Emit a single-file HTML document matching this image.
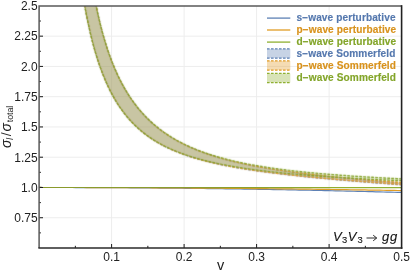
<!DOCTYPE html><html><head><meta charset="utf-8"><style>html,body{margin:0;padding:0;background:#fff}body{width:411px;height:271px;overflow:hidden;position:relative;font-family:"Liberation Sans",sans-serif}</style></head><body>
<svg width="411" height="271" viewBox="0 0 411 271" style="position:absolute;left:0;top:0;will-change:transform">
<defs><filter id="bl" filterUnits="userSpaceOnUse" x="0" y="0" width="411" height="271"><feConvolveMatrix order="3" kernelMatrix="0.5 2.5 0.5 2.5 18 2.5 0.5 2.5 0.5" divisor="30" edgeMode="none"/></filter><linearGradient id="gg" gradientUnits="userSpaceOnUse" x1="39" y1="0" x2="402" y2="0"><stop offset="0" stop-color="#8a9a2c"/><stop offset="0.55" stop-color="#8c9f2e"/><stop offset="0.85" stop-color="#8FB032"/></linearGradient><clipPath id="c"><rect x="39.10" y="5.90" width="362.50" height="242.10"/></clipPath></defs>
<g stroke="#ededed" stroke-width="1" fill="none"><line x1="111.60" y1="5.9" x2="111.60" y2="248.0"/><line x1="184.10" y1="5.9" x2="184.10" y2="248.0"/><line x1="256.60" y1="5.9" x2="256.60" y2="248.0"/><line x1="329.10" y1="5.9" x2="329.10" y2="248.0"/><line x1="39.1" y1="217.74" x2="401.6" y2="217.74"/><line x1="39.1" y1="187.47" x2="401.6" y2="187.47"/><line x1="39.1" y1="157.21" x2="401.6" y2="157.21"/><line x1="39.1" y1="126.95" x2="401.6" y2="126.95"/><line x1="39.1" y1="96.69" x2="401.6" y2="96.69"/><line x1="39.1" y1="66.42" x2="401.6" y2="66.42"/><line x1="39.1" y1="36.16" x2="401.6" y2="36.16"/></g>
<g clip-path="url(#c)">
<path d="M39.10,187.47 L42.76,187.48 L46.42,187.48 L50.08,187.48 L53.75,187.48 L57.41,187.49 L61.07,187.49 L64.73,187.50 L68.39,187.51 L72.05,187.52 L75.72,187.53 L79.38,187.54 L83.04,187.55 L86.70,187.56 L90.36,187.57 L94.02,187.59 L97.69,187.61 L101.35,187.62 L105.01,187.64 L108.67,187.66 L112.33,187.68 L115.99,187.70 L119.66,187.72 L123.32,187.74 L126.98,187.77 L130.64,187.79 L134.30,187.82 L137.96,187.85 L141.63,187.87 L145.29,187.90 L148.95,187.93 L152.61,187.96 L156.27,188.00 L159.93,188.03 L163.59,188.06 L167.26,188.10 L170.92,188.14 L174.58,188.17 L178.24,188.21 L181.90,188.25 L185.56,188.29 L189.23,188.33 L192.89,188.37 L196.55,188.42 L200.21,188.46 L203.87,188.51 L207.53,188.55 L211.20,188.60 L214.86,188.65 L218.52,188.70 L222.18,188.75 L225.84,188.80 L229.50,188.85 L233.17,188.91 L236.83,188.96 L240.49,189.02 L244.15,189.07 L247.81,189.13 L251.47,189.19 L255.14,189.25 L258.80,189.31 L262.46,189.37 L266.12,189.43 L269.78,189.50 L273.44,189.56 L277.11,189.63 L280.77,189.69 L284.43,189.76 L288.09,189.83 L291.75,189.90 L295.41,189.97 L299.07,190.04 L302.74,190.12 L306.40,190.19 L310.06,190.26 L313.72,190.34 L317.38,190.42 L321.04,190.50 L324.71,190.57 L328.37,190.65 L332.03,190.74 L335.69,190.82 L339.35,190.90 L343.01,190.98 L346.68,191.07 L350.34,191.16 L354.00,191.24 L357.66,191.33 L361.32,191.42 L364.98,191.51 L368.65,191.60 L372.31,191.69 L375.97,191.79 L379.63,191.88 L383.29,191.98 L386.95,192.07 L390.62,192.17 L394.28,192.27 L397.94,192.37 L401.60,192.47" fill="none" stroke="#5E81B5" stroke-width="1.2"/>
<path d="M39.10,187.47 L42.76,187.48 L46.42,187.48 L50.08,187.48 L53.75,187.48 L57.41,187.48 L61.07,187.49 L64.73,187.49 L68.39,187.50 L72.05,187.50 L75.72,187.51 L79.38,187.51 L83.04,187.52 L86.70,187.53 L90.36,187.54 L94.02,187.55 L97.69,187.56 L101.35,187.57 L105.01,187.58 L108.67,187.59 L112.33,187.60 L115.99,187.61 L119.66,187.63 L123.32,187.64 L126.98,187.66 L130.64,187.67 L134.30,187.69 L137.96,187.70 L141.63,187.72 L145.29,187.74 L148.95,187.76 L152.61,187.78 L156.27,187.80 L159.93,187.82 L163.59,187.84 L167.26,187.86 L170.92,187.88 L174.58,187.91 L178.24,187.93 L181.90,187.95 L185.56,187.98 L189.23,188.00 L192.89,188.03 L196.55,188.06 L200.21,188.08 L203.87,188.11 L207.53,188.14 L211.20,188.17 L214.86,188.20 L218.52,188.23 L222.18,188.26 L225.84,188.29 L229.50,188.33 L233.17,188.36 L236.83,188.39 L240.49,188.43 L244.15,188.46 L247.81,188.50 L251.47,188.53 L255.14,188.57 L258.80,188.61 L262.46,188.65 L266.12,188.69 L269.78,188.73 L273.44,188.77 L277.11,188.81 L280.77,188.85 L284.43,188.89 L288.09,188.93 L291.75,188.97 L295.41,189.02 L299.07,189.06 L302.74,189.11 L306.40,189.15 L310.06,189.20 L313.72,189.25 L317.38,189.29 L321.04,189.34 L324.71,189.39 L328.37,189.44 L332.03,189.49 L335.69,189.54 L339.35,189.59 L343.01,189.64 L346.68,189.70 L350.34,189.75 L354.00,189.80 L357.66,189.86 L361.32,189.91 L364.98,189.97 L368.65,190.03 L372.31,190.08 L375.97,190.14 L379.63,190.20 L383.29,190.26 L386.95,190.32 L390.62,190.38 L394.28,190.44 L397.94,190.50 L401.60,190.56" fill="none" stroke="#E19C24" stroke-width="1.2"/>
<path d="M39.10,187.47 L42.76,187.48 L46.42,187.48 L50.08,187.48 L53.75,187.48 L57.41,187.48 L61.07,187.48 L64.73,187.48 L68.39,187.48 L72.05,187.48 L75.72,187.48 L79.38,187.48 L83.04,187.48 L86.70,187.48 L90.36,187.48 L94.02,187.48 L97.69,187.48 L101.35,187.48 L105.01,187.48 L108.67,187.48 L112.33,187.48 L115.99,187.49 L119.66,187.49 L123.32,187.49 L126.98,187.49 L130.64,187.49 L134.30,187.49 L137.96,187.49 L141.63,187.49 L145.29,187.50 L148.95,187.50 L152.61,187.50 L156.27,187.50 L159.93,187.50 L163.59,187.50 L167.26,187.51 L170.92,187.51 L174.58,187.51 L178.24,187.51 L181.90,187.51 L185.56,187.51 L189.23,187.52 L192.89,187.52 L196.55,187.52 L200.21,187.52 L203.87,187.53 L207.53,187.53 L211.20,187.53 L214.86,187.53 L218.52,187.53 L222.18,187.54 L225.84,187.54 L229.50,187.54 L233.17,187.54 L236.83,187.55 L240.49,187.55 L244.15,187.55 L247.81,187.56 L251.47,187.56 L255.14,187.56 L258.80,187.56 L262.46,187.57 L266.12,187.57 L269.78,187.57 L273.44,187.58 L277.11,187.58 L280.77,187.58 L284.43,187.59 L288.09,187.59 L291.75,187.59 L295.41,187.60 L299.07,187.60 L302.74,187.60 L306.40,187.61 L310.06,187.61 L313.72,187.61 L317.38,187.62 L321.04,187.62 L324.71,187.63 L328.37,187.63 L332.03,187.63 L335.69,187.64 L339.35,187.64 L343.01,187.65 L346.68,187.65 L350.34,187.65 L354.00,187.66 L357.66,187.66 L361.32,187.67 L364.98,187.67 L368.65,187.68 L372.31,187.68 L375.97,187.68 L379.63,187.69 L383.29,187.69 L386.95,187.70 L390.62,187.70 L394.28,187.71 L397.94,187.71 L401.60,187.72" fill="none" stroke="url(#gg)" stroke-width="1.2"/>
<g filter="url(#bl)">
<path d="M401.60,182.95 L399.15,182.76 L396.70,182.56 L394.25,182.36 L391.79,182.16 L389.34,181.96 L386.89,181.76 L384.44,181.55 L381.99,181.35 L379.54,181.14 L377.09,180.93 L374.63,180.72 L372.18,180.51 L369.73,180.30 L367.28,180.09 L364.83,179.87 L362.38,179.65 L359.93,179.43 L357.47,179.21 L355.02,178.99 L352.57,178.76 L350.12,178.53 L347.67,178.30 L345.22,178.06 L342.77,177.83 L340.31,177.59 L337.86,177.34 L335.41,177.10 L332.96,176.85 L330.51,176.60 L328.06,176.34 L325.61,176.08 L323.15,175.82 L320.70,175.55 L318.25,175.28 L315.80,175.01 L313.35,174.73 L310.90,174.44 L308.45,174.15 L305.99,173.86 L303.54,173.56 L301.09,173.26 L298.64,172.95 L296.19,172.63 L293.74,172.31 L291.29,171.98 L288.83,171.64 L286.38,171.30 L283.93,170.95 L281.48,170.60 L279.03,170.23 L276.58,169.86 L274.13,169.48 L271.67,169.09 L269.22,168.69 L266.77,168.28 L264.32,167.87 L261.87,167.44 L259.42,167.00 L256.97,166.55 L254.51,166.09 L252.06,165.61 L249.61,165.13 L247.16,164.63 L244.71,164.11 L242.26,163.58 L239.81,163.04 L237.35,162.48 L234.90,161.90 L232.45,161.31 L230.00,160.70 L227.55,160.07 L225.10,159.41 L222.64,158.74 L220.19,158.05 L217.74,157.33 L215.29,156.59 L212.84,155.82 L210.39,155.03 L207.94,154.20 L205.48,153.35 L203.03,152.47 L200.58,151.55 L198.13,150.60 L195.68,149.61 L193.23,148.59 L190.78,147.52 L188.32,146.41 L185.87,145.26 L183.42,144.06 L180.97,142.81 L178.52,141.50 L176.07,140.14 L173.62,138.71 L171.16,137.23 L168.71,135.67 L166.26,134.04 L163.81,132.34 L161.36,130.55 L158.91,128.68 L156.46,126.71 L154.00,124.64 L151.55,122.46 L149.10,120.17 L146.65,117.75 L144.20,115.20 L141.75,112.51 L139.30,109.65 L136.84,106.63 L134.39,103.43 L131.94,100.02 L129.49,96.40 L127.04,92.53 L124.59,88.40 L122.14,83.98 L119.68,79.24 L117.23,74.14 L114.78,68.63 L112.33,62.67 L109.88,56.19 L107.43,49.12 L104.98,41.38 L102.52,32.84 L100.07,23.38 L97.62,12.83 L95.17,0.95 L92.72,-12.54 L90.27,-28.02 L87.82,-46.02 L85.36,-67.23 L75.56,-64.07 L78.01,-40.93 L80.46,-21.53 L82.91,-4.99 L85.36,9.32 L87.82,21.86 L90.27,32.94 L92.72,42.81 L95.17,51.67 L97.62,59.66 L100.07,66.91 L102.52,73.52 L104.98,79.55 L107.43,85.09 L109.88,90.19 L112.33,94.89 L114.78,99.24 L117.23,103.27 L119.68,107.02 L122.14,110.51 L124.59,113.76 L127.04,116.80 L129.49,119.65 L131.94,122.31 L134.39,124.82 L136.84,127.17 L139.30,129.39 L141.75,131.48 L144.20,133.45 L146.65,135.31 L149.10,137.08 L151.55,138.75 L154.00,140.33 L156.46,141.83 L158.91,143.26 L161.36,144.62 L163.81,145.92 L166.26,147.15 L168.71,148.33 L171.16,149.45 L173.62,150.52 L176.07,151.55 L178.52,152.54 L180.97,153.48 L183.42,154.38 L185.87,155.25 L188.32,156.08 L190.78,156.88 L193.23,157.66 L195.68,158.40 L198.13,159.11 L200.58,159.80 L203.03,160.47 L205.48,161.11 L207.94,161.73 L210.39,162.33 L212.84,162.91 L215.29,163.47 L217.74,164.02 L220.19,164.54 L222.64,165.06 L225.10,165.55 L227.55,166.03 L230.00,166.50 L232.45,166.96 L234.90,167.40 L237.35,167.83 L239.81,168.25 L242.26,168.66 L244.71,169.06 L247.16,169.45 L249.61,169.83 L252.06,170.20 L254.51,170.57 L256.97,170.92 L259.42,171.27 L261.87,171.61 L264.32,171.94 L266.77,172.27 L269.22,172.59 L271.67,172.90 L274.13,173.21 L276.58,173.51 L279.03,173.80 L281.48,174.09 L283.93,174.38 L286.38,174.66 L288.83,174.94 L291.29,175.21 L293.74,175.47 L296.19,175.74 L298.64,176.00 L301.09,176.25 L303.54,176.50 L305.99,176.75 L308.45,177.00 L310.90,177.24 L313.35,177.48 L315.80,177.71 L318.25,177.95 L320.70,178.18 L323.15,178.40 L325.61,178.63 L328.06,178.85 L330.51,179.07 L332.96,179.29 L335.41,179.51 L337.86,179.72 L340.31,179.93 L342.77,180.14 L345.22,180.35 L347.67,180.56 L350.12,180.77 L352.57,180.97 L355.02,181.17 L357.47,181.37 L359.93,181.57 L362.38,181.77 L364.83,181.97 L367.28,182.16 L369.73,182.36 L372.18,182.55 L374.63,182.74 L377.09,182.94 L379.54,183.13 L381.99,183.32 L384.44,183.50 L386.89,183.69 L389.34,183.88 L391.79,184.07 L394.25,184.25 L396.70,184.44 L399.15,184.62 L401.60,184.81Z" fill="#5E81B5" fill-opacity="0.3" stroke="none"/>
<path d="M401.60,182.95 L399.15,182.76 L396.70,182.56 L394.25,182.36 L391.79,182.16 L389.34,181.96 L386.89,181.76 L384.44,181.55 L381.99,181.35 L379.54,181.14 L377.09,180.93 L374.63,180.72 L372.18,180.51 L369.73,180.30 L367.28,180.09 L364.83,179.87 L362.38,179.65 L359.93,179.43 L357.47,179.21 L355.02,178.99 L352.57,178.76 L350.12,178.53 L347.67,178.30 L345.22,178.06 L342.77,177.83 L340.31,177.59 L337.86,177.34 L335.41,177.10 L332.96,176.85 L330.51,176.60 L328.06,176.34 L325.61,176.08 L323.15,175.82 L320.70,175.55 L318.25,175.28 L315.80,175.01 L313.35,174.73 L310.90,174.44 L308.45,174.15 L305.99,173.86 L303.54,173.56 L301.09,173.26 L298.64,172.95" fill="none" stroke="#5E81B5" stroke-width="1.4" stroke-dasharray="2.9 1.1" stroke-dashoffset="0.45"/>
<path d="M298.64,172.95 L296.19,172.63 L293.74,172.31 L291.29,171.98 L288.83,171.64 L286.38,171.30 L283.93,170.95 L281.48,170.60 L279.03,170.23 L276.58,169.86 L274.13,169.48 L271.67,169.09 L269.22,168.69 L266.77,168.28 L264.32,167.87 L261.87,167.44 L259.42,167.00 L256.97,166.55 L254.51,166.09 L252.06,165.61 L249.61,165.13 L247.16,164.63 L244.71,164.11 L242.26,163.58 L239.81,163.04 L237.35,162.48 L234.90,161.90 L232.45,161.31 L230.00,160.70 L227.55,160.07 L225.10,159.41 L222.64,158.74 L220.19,158.05 L217.74,157.33 L215.29,156.59 L212.84,155.82 L210.39,155.03 L207.94,154.20 L205.48,153.35 L203.03,152.47 L200.58,151.55 L198.13,150.60 L195.68,149.61 L193.23,148.59 L190.78,147.52 L188.32,146.41 L185.87,145.26 L183.42,144.06 L180.97,142.81 L178.52,141.50 L176.07,140.14 L173.62,138.71 L171.16,137.23 L168.71,135.67 L166.26,134.04 L163.81,132.34 L161.36,130.55 L158.91,128.68 L156.46,126.71 L154.00,124.64 L151.55,122.46 L149.10,120.17 L146.65,117.75 L144.20,115.20 L141.75,112.51 L139.30,109.65 L136.84,106.63 L134.39,103.43 L131.94,100.02 L129.49,96.40 L127.04,92.53 L124.59,88.40 L122.14,83.98 L119.68,79.24 L117.23,74.14 L114.78,68.63 L112.33,62.67 L109.88,56.19 L107.43,49.12 L104.98,41.38 L102.52,32.84 L100.07,23.38 L97.62,12.83 L95.17,0.95 L92.72,-12.54 L90.27,-28.02 L87.82,-46.02 L85.36,-67.23" fill="none" stroke="#5E81B5" stroke-width="1.2" stroke-dasharray="2.9 1.1" stroke-dashoffset="3.90"/>
<path d="M401.60,184.81 L399.15,184.62 L396.70,184.44 L394.25,184.25 L391.79,184.07 L389.34,183.88 L386.89,183.69 L384.44,183.50 L381.99,183.32 L379.54,183.13 L377.09,182.94 L374.63,182.74 L372.18,182.55 L369.73,182.36 L367.28,182.16 L364.83,181.97 L362.38,181.77 L359.93,181.57 L357.47,181.37 L355.02,181.17 L352.57,180.97 L350.12,180.77 L347.67,180.56 L345.22,180.35 L342.77,180.14 L340.31,179.93 L337.86,179.72 L335.41,179.51 L332.96,179.29 L330.51,179.07 L328.06,178.85 L325.61,178.63 L323.15,178.40 L320.70,178.18 L318.25,177.95 L315.80,177.71 L313.35,177.48 L310.90,177.24 L308.45,177.00 L305.99,176.75 L303.54,176.50 L301.09,176.25 L298.64,176.00" fill="none" stroke="#5E81B5" stroke-width="1.4" stroke-dasharray="2.9 1.1" stroke-dashoffset="0.45"/>
<path d="M298.64,176.00 L296.19,175.74 L293.74,175.47 L291.29,175.21 L288.83,174.94 L286.38,174.66 L283.93,174.38 L281.48,174.09 L279.03,173.80 L276.58,173.51 L274.13,173.21 L271.67,172.90 L269.22,172.59 L266.77,172.27 L264.32,171.94 L261.87,171.61 L259.42,171.27 L256.97,170.92 L254.51,170.57 L252.06,170.20 L249.61,169.83 L247.16,169.45 L244.71,169.06 L242.26,168.66 L239.81,168.25 L237.35,167.83 L234.90,167.40 L232.45,166.96 L230.00,166.50 L227.55,166.03 L225.10,165.55 L222.64,165.06 L220.19,164.54 L217.74,164.02 L215.29,163.47 L212.84,162.91 L210.39,162.33 L207.94,161.73 L205.48,161.11 L203.03,160.47 L200.58,159.80 L198.13,159.11 L195.68,158.40 L193.23,157.66 L190.78,156.88 L188.32,156.08 L185.87,155.25 L183.42,154.38 L180.97,153.48 L178.52,152.54 L176.07,151.55 L173.62,150.52 L171.16,149.45 L168.71,148.33 L166.26,147.15 L163.81,145.92 L161.36,144.62 L158.91,143.26 L156.46,141.83 L154.00,140.33 L151.55,138.75 L149.10,137.08 L146.65,135.31 L144.20,133.45 L141.75,131.48 L139.30,129.39 L136.84,127.17 L134.39,124.82 L131.94,122.31 L129.49,119.65 L127.04,116.80 L124.59,113.76 L122.14,110.51 L119.68,107.02 L117.23,103.27 L114.78,99.24 L112.33,94.89 L109.88,90.19 L107.43,85.09 L104.98,79.55 L102.52,73.52 L100.07,66.91 L97.62,59.66 L95.17,51.67 L92.72,42.81 L90.27,32.94 L87.82,21.86 L85.36,9.32 L82.91,-4.99 L80.46,-21.53 L78.01,-40.93 L75.56,-64.07" fill="none" stroke="#5E81B5" stroke-width="1.2" stroke-dasharray="2.9 1.1" stroke-dashoffset="3.79"/>

<path d="M401.60,182.65 L399.15,182.46 L396.70,182.26 L394.25,182.07 L391.79,181.87 L389.34,181.68 L386.89,181.48 L384.44,181.28 L381.99,181.08 L379.54,180.87 L377.09,180.67 L374.63,180.46 L372.18,180.26 L369.73,180.05 L367.28,179.84 L364.83,179.63 L362.38,179.41 L359.93,179.20 L357.47,178.98 L355.02,178.76 L352.57,178.53 L350.12,178.31 L347.67,178.08 L345.22,177.85 L342.77,177.61 L340.31,177.38 L337.86,177.14 L335.41,176.90 L332.96,176.65 L330.51,176.40 L328.06,176.15 L325.61,175.89 L323.15,175.63 L320.70,175.37 L318.25,175.10 L315.80,174.83 L313.35,174.55 L310.90,174.27 L308.45,173.99 L305.99,173.70 L303.54,173.40 L301.09,173.10 L298.64,172.79 L296.19,172.48 L293.74,172.16 L291.29,171.83 L288.83,171.50 L286.38,171.16 L283.93,170.81 L281.48,170.46 L279.03,170.10 L276.58,169.73 L274.13,169.35 L271.67,168.97 L269.22,168.57 L266.77,168.17 L264.32,167.75 L261.87,167.32 L259.42,166.89 L256.97,166.44 L254.51,165.98 L252.06,165.51 L249.61,165.03 L247.16,164.53 L244.71,164.02 L242.26,163.49 L239.81,162.95 L237.35,162.39 L234.90,161.82 L232.45,161.22 L230.00,160.61 L227.55,159.98 L225.10,159.33 L222.64,158.66 L220.19,157.97 L217.74,157.26 L215.29,156.52 L212.84,155.75 L210.39,154.96 L207.94,154.14 L205.48,153.29 L203.03,152.41 L200.58,151.49 L198.13,150.54 L195.68,149.56 L193.23,148.53 L190.78,147.47 L188.32,146.36 L185.87,145.21 L183.42,144.01 L180.97,142.76 L178.52,141.46 L176.07,140.09 L173.62,138.67 L171.16,137.19 L168.71,135.63 L166.26,134.01 L163.81,132.30 L161.36,130.52 L158.91,128.64 L156.46,126.68 L154.00,124.61 L151.55,122.43 L149.10,120.14 L146.65,117.72 L144.20,115.18 L141.75,112.48 L139.30,109.63 L136.84,106.61 L134.39,103.41 L131.94,100.00 L129.49,96.38 L127.04,92.51 L124.59,88.39 L122.14,83.97 L119.68,79.23 L117.23,74.12 L114.78,68.62 L112.33,62.66 L109.88,56.18 L107.43,49.11 L104.98,41.37 L102.52,32.83 L100.07,23.38 L97.62,12.82 L95.17,0.94 L92.72,-12.55 L90.27,-28.03 L87.82,-46.02 L85.36,-67.24 L75.56,-64.07 L78.01,-40.93 L80.46,-21.54 L82.91,-5.00 L85.36,9.32 L87.82,21.85 L90.27,32.93 L92.72,42.80 L95.17,51.66 L97.62,59.66 L100.07,66.90 L102.52,73.51 L104.98,79.54 L107.43,85.08 L109.88,90.17 L112.33,94.88 L114.78,99.22 L117.23,103.26 L119.68,107.00 L122.14,110.49 L124.59,113.74 L127.04,116.78 L129.49,119.63 L131.94,122.29 L134.39,124.80 L136.84,127.15 L139.30,129.36 L141.75,131.45 L144.20,133.42 L146.65,135.29 L149.10,137.05 L151.55,138.72 L154.00,140.30 L156.46,141.80 L158.91,143.23 L161.36,144.59 L163.81,145.88 L166.26,147.11 L168.71,148.29 L171.16,149.41 L173.62,150.48 L176.07,151.51 L178.52,152.49 L180.97,153.43 L183.42,154.33 L185.87,155.20 L188.32,156.03 L190.78,156.83 L193.23,157.60 L195.68,158.34 L198.13,159.05 L200.58,159.74 L203.03,160.40 L205.48,161.05 L207.94,161.66 L210.39,162.26 L212.84,162.84 L215.29,163.40 L217.74,163.94 L220.19,164.47 L222.64,164.98 L225.10,165.47 L227.55,165.95 L230.00,166.42 L232.45,166.87 L234.90,167.31 L237.35,167.74 L239.81,168.16 L242.26,168.57 L244.71,168.97 L247.16,169.35 L249.61,169.73 L252.06,170.10 L254.51,170.46 L256.97,170.81 L259.42,171.16 L261.87,171.49 L264.32,171.82 L266.77,172.15 L269.22,172.46 L271.67,172.77 L274.13,173.08 L276.58,173.38 L279.03,173.67 L281.48,173.96 L283.93,174.24 L286.38,174.52 L288.83,174.79 L291.29,175.06 L293.74,175.32 L296.19,175.58 L298.64,175.84 L301.09,176.09 L303.54,176.34 L305.99,176.59 L308.45,176.83 L310.90,177.07 L313.35,177.30 L315.80,177.54 L318.25,177.77 L320.70,177.99 L323.15,178.22 L325.61,178.44 L328.06,178.66 L330.51,178.88 L332.96,179.09 L335.41,179.31 L337.86,179.52 L340.31,179.73 L342.77,179.93 L345.22,180.14 L347.67,180.34 L350.12,180.54 L352.57,180.74 L355.02,180.94 L357.47,181.14 L359.93,181.33 L362.38,181.53 L364.83,181.72 L367.28,181.91 L369.73,182.11 L372.18,182.30 L374.63,182.48 L377.09,182.67 L379.54,182.86 L381.99,183.04 L384.44,183.23 L386.89,183.41 L389.34,183.60 L391.79,183.78 L394.25,183.96 L396.70,184.14 L399.15,184.33 L401.60,184.51Z" fill="#E19C24" fill-opacity="0.25" stroke="none"/>
<path d="M401.60,182.65 L399.15,182.46 L396.70,182.26 L394.25,182.07 L391.79,181.87 L389.34,181.68 L386.89,181.48 L384.44,181.28 L381.99,181.08 L379.54,180.87 L377.09,180.67 L374.63,180.46 L372.18,180.26 L369.73,180.05 L367.28,179.84 L364.83,179.63 L362.38,179.41 L359.93,179.20 L357.47,178.98 L355.02,178.76 L352.57,178.53 L350.12,178.31 L347.67,178.08 L345.22,177.85 L342.77,177.61 L340.31,177.38 L337.86,177.14 L335.41,176.90 L332.96,176.65 L330.51,176.40 L328.06,176.15 L325.61,175.89 L323.15,175.63 L320.70,175.37 L318.25,175.10 L315.80,174.83 L313.35,174.55 L310.90,174.27 L308.45,173.99 L305.99,173.70 L303.54,173.40 L301.09,173.10 L298.64,172.79" fill="none" stroke="#E19C24" stroke-width="1.4" stroke-dasharray="2.9 1.1" stroke-dashoffset="0.45"/>
<path d="M298.64,172.79 L296.19,172.48 L293.74,172.16 L291.29,171.83 L288.83,171.50 L286.38,171.16 L283.93,170.81 L281.48,170.46 L279.03,170.10 L276.58,169.73 L274.13,169.35 L271.67,168.97 L269.22,168.57 L266.77,168.17 L264.32,167.75 L261.87,167.32 L259.42,166.89 L256.97,166.44 L254.51,165.98 L252.06,165.51 L249.61,165.03 L247.16,164.53 L244.71,164.02 L242.26,163.49 L239.81,162.95 L237.35,162.39 L234.90,161.82 L232.45,161.22 L230.00,160.61 L227.55,159.98 L225.10,159.33 L222.64,158.66 L220.19,157.97 L217.74,157.26 L215.29,156.52 L212.84,155.75 L210.39,154.96 L207.94,154.14 L205.48,153.29 L203.03,152.41 L200.58,151.49 L198.13,150.54 L195.68,149.56 L193.23,148.53 L190.78,147.47 L188.32,146.36 L185.87,145.21 L183.42,144.01 L180.97,142.76 L178.52,141.46 L176.07,140.09 L173.62,138.67 L171.16,137.19 L168.71,135.63 L166.26,134.01 L163.81,132.30 L161.36,130.52 L158.91,128.64 L156.46,126.68 L154.00,124.61 L151.55,122.43 L149.10,120.14 L146.65,117.72 L144.20,115.18 L141.75,112.48 L139.30,109.63 L136.84,106.61 L134.39,103.41 L131.94,100.00 L129.49,96.38 L127.04,92.51 L124.59,88.39 L122.14,83.97 L119.68,79.23 L117.23,74.12 L114.78,68.62 L112.33,62.66 L109.88,56.18 L107.43,49.11 L104.98,41.37 L102.52,32.83 L100.07,23.38 L97.62,12.82 L95.17,0.94 L92.72,-12.55 L90.27,-28.03 L87.82,-46.02 L85.36,-67.24" fill="none" stroke="#E19C24" stroke-width="1.2" stroke-dasharray="2.9 1.1" stroke-dashoffset="3.89"/>
<path d="M401.60,184.51 L399.15,184.33 L396.70,184.14 L394.25,183.96 L391.79,183.78 L389.34,183.60 L386.89,183.41 L384.44,183.23 L381.99,183.04 L379.54,182.86 L377.09,182.67 L374.63,182.48 L372.18,182.30 L369.73,182.11 L367.28,181.91 L364.83,181.72 L362.38,181.53 L359.93,181.33 L357.47,181.14 L355.02,180.94 L352.57,180.74 L350.12,180.54 L347.67,180.34 L345.22,180.14 L342.77,179.93 L340.31,179.73 L337.86,179.52 L335.41,179.31 L332.96,179.09 L330.51,178.88 L328.06,178.66 L325.61,178.44 L323.15,178.22 L320.70,177.99 L318.25,177.77 L315.80,177.54 L313.35,177.30 L310.90,177.07 L308.45,176.83 L305.99,176.59 L303.54,176.34 L301.09,176.09 L298.64,175.84" fill="none" stroke="#E19C24" stroke-width="1.4" stroke-dasharray="2.9 1.1" stroke-dashoffset="0.45"/>
<path d="M298.64,175.84 L296.19,175.58 L293.74,175.32 L291.29,175.06 L288.83,174.79 L286.38,174.52 L283.93,174.24 L281.48,173.96 L279.03,173.67 L276.58,173.38 L274.13,173.08 L271.67,172.77 L269.22,172.46 L266.77,172.15 L264.32,171.82 L261.87,171.49 L259.42,171.16 L256.97,170.81 L254.51,170.46 L252.06,170.10 L249.61,169.73 L247.16,169.35 L244.71,168.97 L242.26,168.57 L239.81,168.16 L237.35,167.74 L234.90,167.31 L232.45,166.87 L230.00,166.42 L227.55,165.95 L225.10,165.47 L222.64,164.98 L220.19,164.47 L217.74,163.94 L215.29,163.40 L212.84,162.84 L210.39,162.26 L207.94,161.66 L205.48,161.05 L203.03,160.40 L200.58,159.74 L198.13,159.05 L195.68,158.34 L193.23,157.60 L190.78,156.83 L188.32,156.03 L185.87,155.20 L183.42,154.33 L180.97,153.43 L178.52,152.49 L176.07,151.51 L173.62,150.48 L171.16,149.41 L168.71,148.29 L166.26,147.11 L163.81,145.88 L161.36,144.59 L158.91,143.23 L156.46,141.80 L154.00,140.30 L151.55,138.72 L149.10,137.05 L146.65,135.29 L144.20,133.42 L141.75,131.45 L139.30,129.36 L136.84,127.15 L134.39,124.80 L131.94,122.29 L129.49,119.63 L127.04,116.78 L124.59,113.74 L122.14,110.49 L119.68,107.00 L117.23,103.26 L114.78,99.22 L112.33,94.88 L109.88,90.17 L107.43,85.08 L104.98,79.54 L102.52,73.51 L100.07,66.90 L97.62,59.66 L95.17,51.66 L92.72,42.80 L90.27,32.93 L87.82,21.85 L85.36,9.32 L82.91,-5.00 L80.46,-21.54 L78.01,-40.93 L75.56,-64.07" fill="none" stroke="#E19C24" stroke-width="1.2" stroke-dasharray="2.9 1.1" stroke-dashoffset="3.78"/>

<path d="M401.60,178.85 L399.15,178.74 L396.70,178.62 L394.25,178.50 L391.79,178.37 L389.34,178.25 L386.89,178.12 L384.44,177.99 L381.99,177.86 L379.54,177.73 L377.09,177.59 L374.63,177.45 L372.18,177.31 L369.73,177.17 L367.28,177.02 L364.83,176.87 L362.38,176.72 L359.93,176.56 L357.47,176.40 L355.02,176.24 L352.57,176.08 L350.12,175.91 L347.67,175.74 L345.22,175.56 L342.77,175.38 L340.31,175.20 L337.86,175.01 L335.41,174.82 L332.96,174.63 L330.51,174.43 L328.06,174.23 L325.61,174.02 L323.15,173.81 L320.70,173.59 L318.25,173.37 L315.80,173.14 L313.35,172.91 L310.90,172.67 L308.45,172.43 L305.99,172.18 L303.54,171.92 L301.09,171.66 L298.64,171.40 L296.19,171.12 L293.74,170.84 L291.29,170.55 L288.83,170.26 L286.38,169.96 L283.93,169.64 L281.48,169.33 L279.03,169.00 L276.58,168.66 L274.13,168.32 L271.67,167.96 L269.22,167.60 L266.77,167.22 L264.32,166.84 L261.87,166.44 L259.42,166.04 L256.97,165.62 L254.51,165.18 L252.06,164.74 L249.61,164.28 L247.16,163.81 L244.71,163.32 L242.26,162.82 L239.81,162.30 L237.35,161.77 L234.90,161.22 L232.45,160.65 L230.00,160.06 L227.55,159.45 L225.10,158.82 L222.64,158.17 L220.19,157.50 L217.74,156.80 L215.29,156.08 L212.84,155.33 L210.39,154.56 L207.94,153.75 L205.48,152.92 L203.03,152.06 L200.58,151.16 L198.13,150.22 L195.68,149.25 L193.23,148.24 L190.78,147.19 L188.32,146.10 L185.87,144.96 L183.42,143.77 L180.97,142.53 L178.52,141.24 L176.07,139.89 L173.62,138.48 L171.16,137.00 L168.71,135.46 L166.26,133.84 L163.81,132.15 L161.36,130.37 L158.91,128.51 L156.46,126.55 L154.00,124.49 L151.55,122.32 L149.10,120.03 L146.65,117.63 L144.20,115.08 L141.75,112.39 L139.30,109.55 L136.84,106.54 L134.39,103.34 L131.94,99.94 L129.49,96.32 L127.04,92.46 L124.59,88.34 L122.14,83.92 L119.68,79.18 L117.23,74.08 L114.78,68.58 L112.33,62.62 L109.88,56.15 L107.43,49.09 L104.98,41.35 L102.52,32.81 L100.07,23.36 L97.62,12.80 L95.17,0.93 L92.72,-12.56 L90.27,-28.04 L87.82,-46.03 L85.36,-67.25 L75.56,-64.08 L78.01,-40.94 L80.46,-21.54 L82.91,-5.00 L85.36,9.31 L87.82,21.84 L90.27,32.92 L92.72,42.79 L95.17,51.65 L97.62,59.64 L100.07,66.89 L102.52,73.49 L104.98,79.52 L107.43,85.05 L109.88,90.15 L112.33,94.84 L114.78,99.19 L117.23,103.22 L119.68,106.96 L122.14,110.44 L124.59,113.69 L127.04,116.73 L129.49,119.57 L131.94,122.23 L134.39,124.73 L136.84,127.07 L139.30,129.28 L141.75,131.37 L144.20,133.33 L146.65,135.19 L149.10,136.94 L151.55,138.60 L154.00,140.18 L156.46,141.67 L158.91,143.09 L161.36,144.44 L163.81,145.72 L166.26,146.95 L168.71,148.11 L171.16,149.23 L173.62,150.29 L176.07,151.30 L178.52,152.27 L180.97,153.20 L183.42,154.09 L185.87,154.95 L188.32,155.77 L190.78,156.55 L193.23,157.31 L195.68,158.03 L198.13,158.73 L200.58,159.41 L203.03,160.05 L205.48,160.68 L207.94,161.28 L210.39,161.86 L212.84,162.42 L215.29,162.96 L217.74,163.49 L220.19,163.99 L222.64,164.48 L225.10,164.96 L227.55,165.42 L230.00,165.86 L232.45,166.30 L234.90,166.72 L237.35,167.12 L239.81,167.52 L242.26,167.90 L244.71,168.27 L247.16,168.64 L249.61,168.99 L252.06,169.33 L254.51,169.66 L256.97,169.99 L259.42,170.31 L261.87,170.61 L264.32,170.91 L266.77,171.21 L269.22,171.49 L271.67,171.77 L274.13,172.04 L276.58,172.31 L279.03,172.57 L281.48,172.82 L283.93,173.07 L286.38,173.31 L288.83,173.55 L291.29,173.78 L293.74,174.01 L296.19,174.23 L298.64,174.45 L301.09,174.66 L303.54,174.87 L305.99,175.07 L308.45,175.27 L310.90,175.47 L313.35,175.66 L315.80,175.85 L318.25,176.03 L320.70,176.21 L323.15,176.39 L325.61,176.57 L328.06,176.74 L330.51,176.90 L332.96,177.07 L335.41,177.23 L337.86,177.39 L340.31,177.55 L342.77,177.70 L345.22,177.85 L347.67,178.00 L350.12,178.14 L352.57,178.29 L355.02,178.43 L357.47,178.57 L359.93,178.70 L362.38,178.84 L364.83,178.97 L367.28,179.10 L369.73,179.22 L372.18,179.35 L374.63,179.47 L377.09,179.59 L379.54,179.71 L381.99,179.83 L384.44,179.95 L386.89,180.06 L389.34,180.17 L391.79,180.28 L394.25,180.39 L396.70,180.50 L399.15,180.60 L401.60,180.71Z" fill="#8FB032" fill-opacity="0.15" stroke="none"/>
<path d="M401.60,178.85 L399.15,178.74 L396.70,178.62 L394.25,178.50 L391.79,178.37 L389.34,178.25 L386.89,178.12 L384.44,177.99 L381.99,177.86 L379.54,177.73 L377.09,177.59 L374.63,177.45 L372.18,177.31 L369.73,177.17 L367.28,177.02 L364.83,176.87 L362.38,176.72 L359.93,176.56 L357.47,176.40 L355.02,176.24 L352.57,176.08 L350.12,175.91 L347.67,175.74 L345.22,175.56 L342.77,175.38 L340.31,175.20 L337.86,175.01 L335.41,174.82 L332.96,174.63 L330.51,174.43 L328.06,174.23 L325.61,174.02 L323.15,173.81 L320.70,173.59 L318.25,173.37 L315.80,173.14 L313.35,172.91 L310.90,172.67 L308.45,172.43 L305.99,172.18 L303.54,171.92 L301.09,171.66 L298.64,171.40" fill="none" stroke="#84a22a" stroke-width="1.4" stroke-dasharray="2.9 1.1" stroke-dashoffset="0.45"/>
<path d="M298.64,171.40 L296.19,171.12 L293.74,170.84 L291.29,170.55 L288.83,170.26 L286.38,169.96 L283.93,169.64 L281.48,169.33 L279.03,169.00 L276.58,168.66 L274.13,168.32 L271.67,167.96 L269.22,167.60 L266.77,167.22 L264.32,166.84 L261.87,166.44 L259.42,166.04 L256.97,165.62 L254.51,165.18 L252.06,164.74 L249.61,164.28 L247.16,163.81 L244.71,163.32 L242.26,162.82 L239.81,162.30 L237.35,161.77 L234.90,161.22 L232.45,160.65 L230.00,160.06 L227.55,159.45 L225.10,158.82 L222.64,158.17 L220.19,157.50 L217.74,156.80 L215.29,156.08 L212.84,155.33 L210.39,154.56 L207.94,153.75 L205.48,152.92 L203.03,152.06 L200.58,151.16 L198.13,150.22 L195.68,149.25 L193.23,148.24 L190.78,147.19 L188.32,146.10 L185.87,144.96 L183.42,143.77 L180.97,142.53 L178.52,141.24 L176.07,139.89 L173.62,138.48 L171.16,137.00 L168.71,135.46 L166.26,133.84 L163.81,132.15 L161.36,130.37 L158.91,128.51 L156.46,126.55 L154.00,124.49 L151.55,122.32 L149.10,120.03 L146.65,117.63 L144.20,115.08 L141.75,112.39 L139.30,109.55 L136.84,106.54 L134.39,103.34 L131.94,99.94 L129.49,96.32 L127.04,92.46 L124.59,88.34 L122.14,83.92 L119.68,79.18 L117.23,74.08 L114.78,68.58 L112.33,62.62 L109.88,56.15 L107.43,49.09 L104.98,41.35 L102.52,32.81 L100.07,23.36 L97.62,12.80 L95.17,0.93 L92.72,-12.56 L90.27,-28.04 L87.82,-46.03 L85.36,-67.25" fill="none" stroke="#84a22a" stroke-width="1.2" stroke-dasharray="2.9 1.1" stroke-dashoffset="3.70"/>
<path d="M401.60,180.71 L399.15,180.60 L396.70,180.50 L394.25,180.39 L391.79,180.28 L389.34,180.17 L386.89,180.06 L384.44,179.95 L381.99,179.83 L379.54,179.71 L377.09,179.59 L374.63,179.47 L372.18,179.35 L369.73,179.22 L367.28,179.10 L364.83,178.97 L362.38,178.84 L359.93,178.70 L357.47,178.57 L355.02,178.43 L352.57,178.29 L350.12,178.14 L347.67,178.00 L345.22,177.85 L342.77,177.70 L340.31,177.55 L337.86,177.39 L335.41,177.23 L332.96,177.07 L330.51,176.90 L328.06,176.74 L325.61,176.57 L323.15,176.39 L320.70,176.21 L318.25,176.03 L315.80,175.85 L313.35,175.66 L310.90,175.47 L308.45,175.27 L305.99,175.07 L303.54,174.87 L301.09,174.66 L298.64,174.45" fill="none" stroke="#84a22a" stroke-width="1.4" stroke-dasharray="2.9 1.1" stroke-dashoffset="0.45"/>
<path d="M298.64,174.45 L296.19,174.23 L293.74,174.01 L291.29,173.78 L288.83,173.55 L286.38,173.31 L283.93,173.07 L281.48,172.82 L279.03,172.57 L276.58,172.31 L274.13,172.04 L271.67,171.77 L269.22,171.49 L266.77,171.21 L264.32,170.91 L261.87,170.61 L259.42,170.31 L256.97,169.99 L254.51,169.66 L252.06,169.33 L249.61,168.99 L247.16,168.64 L244.71,168.27 L242.26,167.90 L239.81,167.52 L237.35,167.12 L234.90,166.72 L232.45,166.30 L230.00,165.86 L227.55,165.42 L225.10,164.96 L222.64,164.48 L220.19,163.99 L217.74,163.49 L215.29,162.96 L212.84,162.42 L210.39,161.86 L207.94,161.28 L205.48,160.68 L203.03,160.05 L200.58,159.41 L198.13,158.73 L195.68,158.03 L193.23,157.31 L190.78,156.55 L188.32,155.77 L185.87,154.95 L183.42,154.09 L180.97,153.20 L178.52,152.27 L176.07,151.30 L173.62,150.29 L171.16,149.23 L168.71,148.11 L166.26,146.95 L163.81,145.72 L161.36,144.44 L158.91,143.09 L156.46,141.67 L154.00,140.18 L151.55,138.60 L149.10,136.94 L146.65,135.19 L144.20,133.33 L141.75,131.37 L139.30,129.28 L136.84,127.07 L134.39,124.73 L131.94,122.23 L129.49,119.57 L127.04,116.73 L124.59,113.69 L122.14,110.44 L119.68,106.96 L117.23,103.22 L114.78,99.19 L112.33,94.84 L109.88,90.15 L107.43,85.05 L104.98,79.52 L102.52,73.49 L100.07,66.89 L97.62,59.64 L95.17,51.65 L92.72,42.79 L90.27,32.92 L87.82,21.84 L85.36,9.31 L82.91,-5.00 L80.46,-21.54 L78.01,-40.94 L75.56,-64.08" fill="none" stroke="#84a22a" stroke-width="1.2" stroke-dasharray="2.9 1.1" stroke-dashoffset="3.61"/>

<path d="M85.86,-62.70 L87.78,-46.33 L89.70,-31.94 L91.63,-19.19 L93.55,-7.79 L95.47,2.47 L97.40,11.77 L99.32,20.24 L101.24,28.00 L103.17,35.13 L105.09,41.72 L107.01,47.83 L108.94,53.51 L110.86,58.81 L112.78,63.76 L114.71,68.41 L116.63,72.77 L118.55,76.88 L120.48,80.75 L122.40,84.41 L124.32,87.88 L126.25,91.16 L128.17,94.27 L130.09,97.23 L132.02,100.05 L133.94,102.73 L135.87,105.28 L137.79,107.72 L139.71,110.04 L141.64,112.27 L143.56,114.40 L145.48,116.43 L147.41,118.38 L149.33,120.25 L151.25,122.05 L153.18,123.77 L155.10,125.42" fill="none" stroke="#5f7a10" stroke-opacity="0.2" stroke-width="1.4"/>
<path d="M155.10,125.42 L156.43,126.53 L157.76,127.60 L159.09,128.65 L160.43,129.67 L161.76,130.67 L163.09,131.64 L164.42,132.58 L165.75,133.50 L167.08,134.39 L168.42,135.27 L169.75,136.12 L171.08,136.95 L172.41,137.76 L173.74,138.55 L175.07,139.33 L176.41,140.08 L177.74,140.82 L179.07,141.53 L180.40,142.24 L181.73,142.92 L183.06,143.59 L184.40,144.25 L185.73,144.89 L187.06,145.52 L188.39,146.13 L189.72,146.73 L191.05,147.31 L192.39,147.89 L193.72,148.45 L195.05,149.00 L196.38,149.53 L197.71,150.06 L199.04,150.57 L200.38,151.08 L201.71,151.57 L203.04,152.06 L204.37,152.53 L205.70,153.00 L207.03,153.45 L208.37,153.90 L209.70,154.33 L211.03,154.76 L212.36,155.18 L213.69,155.60 L215.02,156.00 L216.36,156.40 L217.69,156.79 L219.02,157.17 L220.35,157.54" fill="none" stroke="#5f7a10" stroke-opacity="0.1" stroke-width="1.4"/>
<path d="M74.31,-77.66 L76.24,-57.22 L78.16,-39.64 L80.08,-24.32 L82.01,-10.82 L83.93,1.19 L85.86,11.95 L87.78,21.66 L89.70,30.48 L91.63,38.53 L93.55,45.90 L95.47,52.68 L97.40,58.94 L99.32,64.73 L101.24,70.11 L103.17,75.12 L105.09,79.79 L107.01,84.15 L108.94,88.24 L110.86,92.07 L112.78,95.67 L114.71,99.06 L116.63,102.26 L118.55,105.27 L120.48,108.12 L122.40,110.81 L124.32,113.36 L126.25,115.77 L128.17,118.06 L130.09,120.24 L132.02,122.31 L133.94,124.28 L135.87,126.15 L137.79,127.94 L139.71,129.65 L141.64,131.27 L143.56,132.83 L145.48,134.32 L147.41,135.74 L149.33,137.10 L151.25,138.40 L153.18,139.66 L155.10,140.86" fill="none" stroke="#5f7a10" stroke-opacity="0.2" stroke-width="1.4"/>
<path d="M155.10,140.86 L156.43,141.66 L157.76,142.44 L159.09,143.20 L160.43,143.94 L161.76,144.65 L163.09,145.35 L164.42,146.04 L165.75,146.70 L167.08,147.35 L168.42,147.98 L169.75,148.59 L171.08,149.19 L172.41,149.77 L173.74,150.34 L175.07,150.90 L176.41,151.44 L177.74,151.97 L179.07,152.49 L180.40,152.99 L181.73,153.48 L183.06,153.97 L184.40,154.44 L185.73,154.90 L187.06,155.35 L188.39,155.79 L189.72,156.22 L191.05,156.64 L192.39,157.05 L193.72,157.46 L195.05,157.85 L196.38,158.24 L197.71,158.62 L199.04,158.99 L200.38,159.35 L201.71,159.71 L203.04,160.05 L204.37,160.40 L205.70,160.73 L207.03,161.06 L208.37,161.38 L209.70,161.70 L211.03,162.01 L212.36,162.31 L213.69,162.61 L215.02,162.91 L216.36,163.19 L217.69,163.48 L219.02,163.75 L220.35,164.03" fill="none" stroke="#5f7a10" stroke-opacity="0.1" stroke-width="1.4"/>
</g></g>
<g stroke="#1a1a1a" stroke-width="1" fill="none"><line x1="39.1" y1="232.87" x2="40.9" y2="232.87"/><line x1="39.1" y1="217.74" x2="43.0" y2="217.74"/><line x1="39.1" y1="202.61" x2="40.9" y2="202.61"/><line x1="39.1" y1="187.47" x2="43.0" y2="187.47"/><line x1="39.1" y1="172.34" x2="40.9" y2="172.34"/><line x1="39.1" y1="157.21" x2="43.0" y2="157.21"/><line x1="39.1" y1="142.08" x2="40.9" y2="142.08"/><line x1="39.1" y1="126.95" x2="43.0" y2="126.95"/><line x1="39.1" y1="111.82" x2="40.9" y2="111.82"/><line x1="39.1" y1="96.69" x2="43.0" y2="96.69"/><line x1="39.1" y1="81.56" x2="40.9" y2="81.56"/><line x1="39.1" y1="66.42" x2="43.0" y2="66.42"/><line x1="39.1" y1="51.29" x2="40.9" y2="51.29"/><line x1="39.1" y1="36.16" x2="43.0" y2="36.16"/><line x1="39.1" y1="21.03" x2="40.9" y2="21.03"/><line x1="75.35" y1="248.0" x2="75.35" y2="245.8"/><line x1="111.60" y1="248.0" x2="111.60" y2="244.0"/><line x1="147.85" y1="248.0" x2="147.85" y2="245.8"/><line x1="184.10" y1="248.0" x2="184.10" y2="244.0"/><line x1="220.35" y1="248.0" x2="220.35" y2="245.8"/><line x1="256.60" y1="248.0" x2="256.60" y2="244.0"/><line x1="292.85" y1="248.0" x2="292.85" y2="245.8"/><line x1="329.10" y1="248.0" x2="329.10" y2="244.0"/><line x1="365.35" y1="248.0" x2="365.35" y2="245.8"/></g>
<path d="M39.1,248.0 L39.1,5.9 L401.6,5.9" fill="none" stroke="#5a5a5a" stroke-width="1.5"/>
<path d="M38.35,248.0 L402.40000000000003,248.0" fill="none" stroke="#2a2a2a" stroke-width="1.5"/>
<path d="M401.6,5.15 L401.6,248.8" fill="none" stroke="#222" stroke-width="1.6"/>
<g font-family="Liberation Sans, sans-serif" font-size="12" fill="#222"><text x="37.6" y="10.20" text-anchor="end">2.5</text><text x="37.6" y="40.46" text-anchor="end">2.25</text><text x="37.6" y="70.72" text-anchor="end">2.0</text><text x="37.6" y="100.99" text-anchor="end">1.75</text><text x="37.6" y="131.25" text-anchor="end">1.5</text><text x="37.6" y="161.51" text-anchor="end">1.25</text><text x="37.6" y="191.78" text-anchor="end">1.0</text><text x="37.6" y="222.04" text-anchor="end">0.75</text><text x="111.60" y="261" text-anchor="middle">0.1</text><text x="184.10" y="261" text-anchor="middle">0.2</text><text x="256.60" y="261" text-anchor="middle">0.3</text><text x="329.10" y="261" text-anchor="middle">0.4</text><text x="401.60" y="261" text-anchor="middle">0.5</text></g>
<text x="220.5" y="269.6" text-anchor="middle" font-family="Liberation Sans, sans-serif" font-size="14.5" fill="#222">v</text>
<g transform="translate(11.3,147.8) rotate(-90)" font-family="Liberation Sans, sans-serif" fill="#222"><text x="-0.2" y="0" font-size="14" font-style="italic">σ</text><text x="7.9" y="1.5" font-size="9" font-style="italic">l</text><path d="M12.1,-0.3 L14.9,-10.2" stroke="#222" stroke-width="0.95" fill="none"/><text x="16.4" y="0" font-size="14" font-style="italic">σ</text><text x="25.5" y="2.0" font-size="8.8">total</text></g>
<g font-family="Liberation Sans, sans-serif" fill="#151515" stroke="#151515" stroke-width="0.12" font-size="13" font-style="italic"><text x="332.9" y="241">V</text><text x="342.0" y="243.2" font-size="9.4" font-style="normal">3</text><text x="347.8" y="241">V</text><text x="357.6" y="243.2" font-size="9.4" font-style="normal">3</text><text x="382.0" y="241">g</text><text x="389.9" y="241">g</text><path d="M366.5,238 H376.6 M373.2,235.2 L376.7,238 L373.2,240.8" fill="none" stroke="#222" stroke-width="0.95"/></g>
<line x1="267" y1="18.1" x2="290.3" y2="18.1" stroke="#5E81B5" stroke-width="1.3"/><text x="296.5" y="20.8" font-family="Liberation Sans, sans-serif" font-weight="bold" font-size="10.1" letter-spacing="0.095" fill="#5578AE" stroke="#5578AE" stroke-width="0.15">s−wave perturbative</text><line x1="267" y1="30.0" x2="290.3" y2="30.0" stroke="#E19C24" stroke-width="1.3"/><text x="296.5" y="32.8" font-family="Liberation Sans, sans-serif" font-weight="bold" font-size="10.1" letter-spacing="0.095" fill="#D8921C" stroke="#D8921C" stroke-width="0.15">p−wave perturbative</text><line x1="267" y1="42.1" x2="290.3" y2="42.1" stroke="#8FB032" stroke-width="1.3"/><text x="296.5" y="44.8" font-family="Liberation Sans, sans-serif" font-weight="bold" font-size="10.1" letter-spacing="0.095" fill="#83A52A" stroke="#83A52A" stroke-width="0.15">d−wave perturbative</text><rect x="267" y="48.95" width="23.3" height="9.099999999999994" fill="#5E81B5" fill-opacity="0.35"/><line x1="267" y1="48.95" x2="290.3" y2="48.95" stroke="#5E81B5" stroke-width="1.2" stroke-dasharray="2.6 1.4"/><line x1="267" y1="58.05" x2="290.3" y2="58.05" stroke="#5E81B5" stroke-width="1.2" stroke-dasharray="2.6 1.4"/><text x="296.5" y="56.8" font-family="Liberation Sans, sans-serif" font-weight="bold" font-size="10.1" letter-spacing="0.095" fill="#5578AE" stroke="#5578AE" stroke-width="0.15">s−wave Sommerfeld</text><rect x="267" y="60.95" width="23.3" height="9.099999999999994" fill="#E19C24" fill-opacity="0.35"/><line x1="267" y1="60.95" x2="290.3" y2="60.95" stroke="#E19C24" stroke-width="1.2" stroke-dasharray="2.6 1.4"/><line x1="267" y1="70.05" x2="290.3" y2="70.05" stroke="#E19C24" stroke-width="1.2" stroke-dasharray="2.6 1.4"/><text x="296.5" y="68.8" font-family="Liberation Sans, sans-serif" font-weight="bold" font-size="10.1" letter-spacing="0.095" fill="#D8921C" stroke="#D8921C" stroke-width="0.15">p−wave Sommerfeld</text><rect x="267" y="73.45" width="23.3" height="9.099999999999994" fill="#8FB032" fill-opacity="0.35"/><line x1="267" y1="73.45" x2="290.3" y2="73.45" stroke="#8FB032" stroke-width="1.2" stroke-dasharray="2.6 1.4"/><line x1="267" y1="82.55" x2="290.3" y2="82.55" stroke="#8FB032" stroke-width="1.2" stroke-dasharray="2.6 1.4"/><text x="296.5" y="80.8" font-family="Liberation Sans, sans-serif" font-weight="bold" font-size="10.1" letter-spacing="0.095" fill="#83A52A" stroke="#83A52A" stroke-width="0.15">d−wave Sommerfeld</text>
</svg>
</body></html>
